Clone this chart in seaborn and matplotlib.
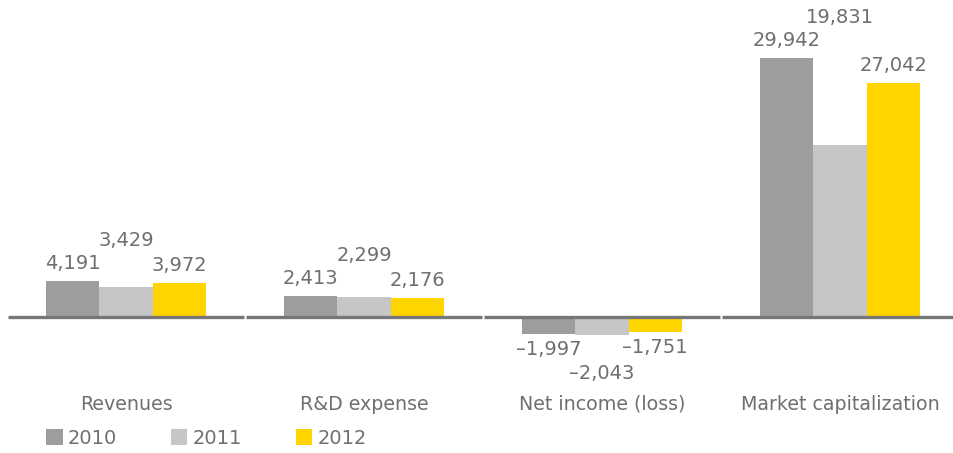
import matplotlib
matplotlib.use("Agg")
import matplotlib.pyplot as plt
import matplotlib.transforms as mtransforms
from matplotlib.patches import Patch
import numpy as np
import pandas as pd
import seaborn as sns

# Financial metrics (US$ millions)
categories = ["Revenues", "R&D expense", "Net income (loss)", "Market capitalization"]
years = ["2010", "2011", "2012"]
values_2010 = [4191, 2413, -1997, 29942]
values_2011 = [3429, 2299, -2043, 19831]
values_2012 = [3972, 2176, -1751, 27042]
colors = ["#9d9d9c", "#c6c6c6", "#ffd500"]
text_color = "#6f6f6f"

series = {"2010": values_2010, "2011": values_2011, "2012": values_2012}
df = pd.DataFrame(
    [(c, y, series[y][i]) for y in years for i, c in enumerate(categories)],
    columns=["category", "year", "value"],
)

sns.set_style("white")
plt.rcParams["font.family"] = ["DejaVu Sans"]

W, H, DPI = 954, 453, 100
fig = plt.figure(figsize=(W / DPI, H / DPI), dpi=DPI)
ax = fig.add_axes([0, 0, 1, 1])

sns.barplot(
    data=df, x="category", y="value", hue="year", order=categories,
    hue_order=years, palette=colors, width=0.672, gap=0, saturation=1,
    edgecolor="none", linewidth=0, legend=False, ax=ax,
)

# axis geometry: category spacing 238 px, first centre at 126 px, zero line at y=317 px
spacing, first_c, zero_px, px_per_unit = 238.0, 126.0, 317.0, 0.00865
ax.set_xlim(-first_c / spacing, (W - first_c) / spacing)
ax.set_ylim(-(H - zero_px) / px_per_unit, zero_px / px_per_unit)
ax.axis("off")

# segmented zero line under each category
for i in range(len(categories)):
    ax.plot([i - 0.494, i + 0.494], [0, 0], color="#777777", lw=2.4,
            solid_capstyle="butt", zorder=3)

# value labels; the middle year's label is lifted one line to clear its neighbours
offset_line = 23
for i, c in enumerate(categories):
    vals = [series[y][i] for y in years]
    extreme = max(vals) if vals[0] >= 0 else min(vals)
    for j, y in enumerate(years):
        v = series[y][i]
        x = i + (j - 1) * 0.224
        sign = 1 if v >= 0 else -1
        if j == 1:
            base = extreme
            off = sign * (8 + offset_line) if sign > 0 else sign * (6 + offset_line)
        else:
            base = v
            off = sign * 8 if sign > 0 else sign * 6
        label = f"{v:,}".replace("-", "\u2013")
        ax.annotate(label, (x, base), xytext=(0, off * 72 / DPI),
                    textcoords="offset points", ha="center",
                    va="bottom" if sign > 0 else "top",
                    fontsize=14, color=text_color, annotation_clip=False)

# category names below the chart
blend = mtransforms.blended_transform_factory(ax.transData, fig.transFigure)
for i, c in enumerate(categories):
    ax.text(i, 1 - 404 / H, c, transform=blend, ha="center", va="center",
            fontsize=13.7, color=text_color)

# legend row
handles = [Patch(facecolor=col, edgecolor="none", label=y) for y, col in zip(years, colors)]
leg = fig.legend(handles=handles, loc="center left",
                 bbox_to_anchor=(46 / W, 1 - 438 / H), ncol=3, frameon=False,
                 fontsize=14, handlelength=0.85, handleheight=0.85,
                 handletextpad=0.28, columnspacing=2.75, borderaxespad=0,
                 borderpad=0)
for t in leg.get_texts():
    t.set_color(text_color)

fig.savefig("out.png", dpi=DPI, facecolor="white")
